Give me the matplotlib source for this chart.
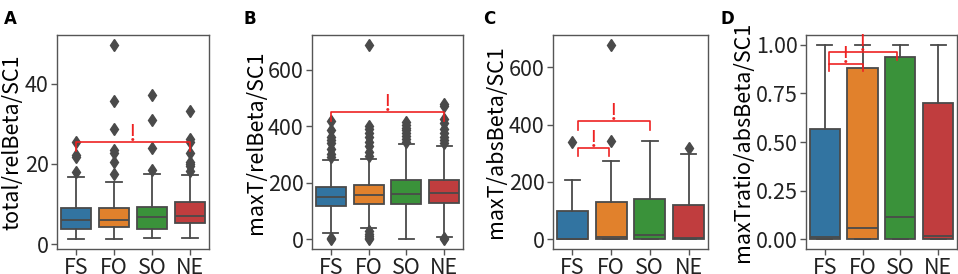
import numpy as np
import matplotlib
matplotlib.use("Agg")
import matplotlib.pyplot as plt

plt.rcParams['font.family'] = ['Noto Sans CJK JP', 'DejaVu Sans']

groups = ["FS", "FO", "SO", "NE"]
colors = ["#3274a1", "#e1812c", "#3a923a", "#c03d3e"]

# A: total/relBeta/SC1
a_q1 = [3.7, 4.2, 3.8, 5.2]
a_med = [6.0, 6.0, 6.7, 7.1]
a_q3 = [9.0, 9.1, 9.4, 10.5]
a_lo = [1.25, 1.4, 1.5, 1.6]
a_hi = [16.8, 15.4, 17.5, 17.2]
a_fl = [[18.0, 21.8, 22.3, 25.6],
        [17.5, 20.6, 22.7, 23.5, 28.7, 35.7, 49.7],
        [18.4, 24.1, 30.9, 37.3],
        [18.2, 19.6, 20.0, 20.5, 22.7, 25.4, 26.2, 33.3]]

# B: maxT/relBeta/SC1
b_q1 = [118.6, 124.5, 124.5, 128.0]
b_med = [148.0, 155.0, 159.0, 164.0]
b_q3 = [183.8, 191.0, 211.0, 211.0]
b_lo = [23.7, 39.0, 0.0, 7.0]
b_hi = [280.0, 284.6, 338.0, 330.0]
b_fl = [[0, 3, 290, 300, 320, 340, 350, 360, 385, 420],
        [0, 5, 10, 20, 30, 295, 310, 330, 345, 360, 375, 390, 400, 688],
        [345, 355, 365, 375, 385, 395, 405, 415],
        [0, 3, 340, 350, 360, 375, 390, 410, 425, 470, 480]]

# C: maxT/absBeta/SC1
c_q1 = [0, 0, 0, 0]
c_med = [2, 7, 15, 3]
c_q3 = [99, 129, 140, 119]
c_lo = [0, 0, 0, 0]
c_hi = [206, 273, 344, 296]
c_fl = [[338], [344, 678], [], [318]]

# D: maxTratio/absBeta/SC1
d_q1 = [0, 0, 0, 0]
d_med = [0.01, 0.057, 0.113, 0.017]
d_q3 = [0.565, 0.88, 0.935, 0.70]
d_lo = [0, 0, 0, 0]
d_hi = [1.0, 1.0, 1.0, 1.0]
d_fl = [[], [], [], []]

panels = [
    ("A", "total/relBeta/SC1", a_q1, a_med, a_q3, a_lo, a_hi, a_fl, [0, 20, 40], None),
    ("B", "maxT/relBeta/SC1", b_q1, b_med, b_q3, b_lo, b_hi, b_fl, [0, 200, 400, 600], None),
    ("C", "maxT/absBeta/SC1", c_q1, c_med, c_q3, c_lo, c_hi, c_fl, [0, 200, 400, 600], None),
    ("D", "maxTratio/absBeta/SC1", d_q1, d_med, d_q3, d_lo, d_hi, d_fl, [0, 0.25, 0.5, 0.75, 1.0], "%.2f"),
]

# brackets: (x1, x2, y, left drop, right drop)
brackets = {
    "A": [(0, 3, 25.5, 23.3, 23.3)],
    "B": [(0, 3, 450, 418, 418)],
    "C": [(0.15, 0.95, 319, 292, 292), (0.15, 2.0, 412, 382, 382)],
    "D": [(0.1, 1.0, 0.902, 0.864, 0.864), (0.1, 1.9, 0.964, 0.90, 0.92)],
}

rects = [(0.0595, 0.0912, 0.1587, 0.781),
         (0.3257, 0.0912, 0.1576, 0.781),
         (0.5772, 0.0912, 0.1618, 0.781),
         (0.8413, 0.0912, 0.1576, 0.781)]
label_x = [0.004, 0.254, 0.504, 0.752]

fig = plt.figure(figsize=(9.58, 2.74), dpi=100)
grey = "#4a4a4a"
for i, (tag, ylab, q1, med, q3, lo, hi, fl, yt, fmt) in enumerate(panels):
    ax = fig.add_axes(rects[i])
    stats = []
    for k in range(4):
        stats.append(dict(med=med[k], q1=q1[k], q3=q3[k], whislo=lo[k], whishi=hi[k], fliers=fl[k]))
    bp = ax.bxp(stats, positions=range(4), widths=0.8, patch_artist=True,
                boxprops=dict(edgecolor=grey, linewidth=1.3),
                medianprops=dict(color=grey, linewidth=1.3),
                whiskerprops=dict(color=grey, linewidth=1.3),
                capprops=dict(color=grey, linewidth=1.3),
                flierprops=dict(marker="d", markerfacecolor=grey, markeredgecolor=grey, markersize=6))
    for patch, c in zip(bp["boxes"], colors):
        patch.set_facecolor(c)
    allv = [v for k in range(4) for v in [lo[k], hi[k]] + list(fl[k])]
    vmin, vmax = min(allv), max(allv)
    pad = (vmax - vmin) * 0.05
    ax.set_ylim(vmin - pad, vmax + pad)
    ax.set_xlim(-0.5, 3.5)
    ax.set_xticks(range(4))
    ax.set_xticklabels(groups)
    ax.set_yticks(yt)
    if fmt:
        ax.set_yticklabels([fmt % v for v in yt])
    ax.tick_params(labelsize=15.5, colors="#222222", length=4, width=1, pad=2)
    ax.tick_params(axis="both", color="#555555")
    for s in ax.spines.values():
        s.set_color("#555555")
        s.set_linewidth(1)
    ax.set_ylabel(ylab, fontsize=15.5, labelpad=1)
    for (x1, x2, y, yl, yr) in brackets[tag]:
        ax.plot([x1, x1, x2, x2], [yl, y, y, yr], color="#ee2222", lw=1.2, clip_on=False)
        ax.text((x1 + x2) / 2, y - pad * 0.4, "!", color="#ee2222", fontsize=17,
                ha="center", va="bottom")
    fig.text(label_x[i], 0.965, tag, fontsize=12, fontweight="bold", va="top", family="DejaVu Sans")

fig.savefig("out.png", dpi=100)
